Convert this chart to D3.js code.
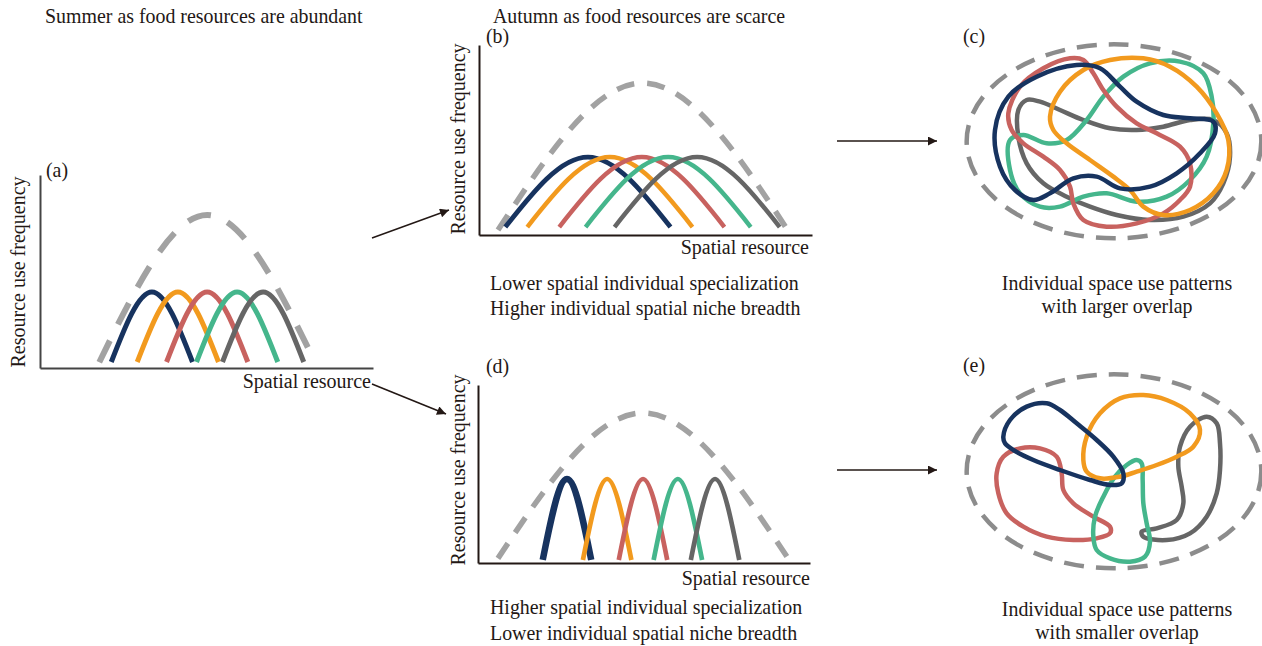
<!DOCTYPE html>
<meta charset="utf-8">
<script src="https://d3js.org/d3.v7.min.js"></script>
<style>
  body { margin: 0; background: #fff; }
  text { font-family: "Liberation Serif", "Times New Roman", serif; fill: #231815; }
</style>
<div id="my_div"></div>
<script>
// five individuals: blue, orange, red, green, grey
var individuals = ["ind1", "ind2", "ind3", "ind4", "ind5"];
var indColors = ["#17335f", "#f29a1e", "#c8625f", "#45b68c", "#666666"];

// individual niche curves, spatial resource axis 0-100, frequency axis 0-100
var summerCenters = [33.6, 41.4, 50.2, 59.2, 67.0];
var lowSpecCenters = [32.7, 39.3, 48.9, 56.8, 65.5];
var highSpecCenters = [26.8, 38.9, 49.7, 60.2, 71.4];
// per panel (a, b, d): half width, peak and base of the individual curves
var curveHalfWidth = [12.2, 24.8, 7.3];
var curvePeak = [39.4, 41.0, 47.2];
var curveBase = [3.1, 4.2, 1.7];
// population niche (dashed) per panel (a, b, d)
var popCenter = [50.2, 49.2, 49.7];
var popHalfWidth = [32.4, 43.5, 43.7];
var popPeak = [79.3, 80.0, 84.3];
var popBase = [3.0, 2.6, 2.6];

// space use outlines, map units (0-936 x 0-660)
var popRange = {cx: 492, cy: 334, rx: 442, ry: 291};
var largeBlue = [[135,300],[175,200],[260,140],[380,105],[450,115],[510,170],[560,215],[640,255],[720,265],[790,275],[795,310],[750,370],[680,430],[600,470],[510,475],[440,440],[370,445],[300,490],[250,510],[195,480],[150,410]];
var largeOrange = [[300,260],[330,185],[400,120],[480,90],[580,85],[660,110],[740,170],[800,250],[835,330],[830,420],[790,490],[720,540],[640,555],[580,530],[540,480],[490,440],[420,390],[350,340],[310,300]];
var largeRed = [[175,250],[210,170],[280,115],[360,85],[400,90],[430,130],[460,180],[500,230],[560,280],[620,310],[690,350],[720,400],[720,470],[690,510],[640,550],[560,580],[470,590],[400,570],[370,520],[360,470],[330,420],[280,380],[220,340],[185,300]];
var largeGreen = [[180,330],[220,315],[290,340],[350,330],[410,270],[460,200],[520,140],[600,100],[690,95],[760,130],[785,200],[790,280],[770,380],[720,450],[650,500],[560,515],[470,490],[400,500],[330,530],[270,530],[210,490],[180,420]];
var largeGrey = [[205,240],[230,210],[270,215],[330,240],[400,270],[480,295],[560,300],[640,290],[720,270],[790,270],[830,310],[840,380],[820,460],[780,520],[700,560],[600,570],[500,555],[420,530],[350,500],[280,460],[230,400],[205,320]];
var smallBlue = [[160,230],[180,180],[230,140],[290,130],[330,150],[380,190],[440,240],[490,290],[520,340],[515,370],[480,375],[420,360],[330,330],[250,300],[190,270],[165,250]];
var smallOrange = [[400,300],[410,230],[450,160],[510,115],[580,105],[650,120],[720,160],[750,210],[730,260],[680,290],[620,315],[560,335],[510,350],[450,355],[410,335]];
var smallRed = [[140,340],[160,290],[210,265],[270,265],[320,290],[335,340],[340,390],[370,430],[430,470],[480,500],[480,520],[440,535],[370,540],[290,530],[220,500],[170,460],[145,400]];
var smallGreen = [[430,530],[435,470],[460,410],[495,350],[530,315],[560,300],[575,310],[578,360],[580,430],[590,490],[600,545],[585,590],[540,605],[480,595],[440,570]];
var smallGrey = [[690,260],[720,200],[770,170],[800,190],[810,250],[810,330],[800,400],[770,470],[720,520],[650,540],[580,530],[575,515],[620,505],[680,480],[700,430],[695,380],[685,320]];

var svg = d3.select("#my_div").append("svg")
  .attr("width", 1262).attr("height", 646);

var defs = svg.append("defs");
defs.append("marker")
  .attr("id", "arrow").attr("viewBox", "0 0 10 10")
  .attr("refX", 10).attr("refY", 5)
  .attr("markerWidth", 11).attr("markerHeight", 9)
  .attr("markerUnits", "userSpaceOnUse").attr("orient", "auto")
  .append("path").attr("d", "M0,0 L10,5 L0,10 z").attr("fill", "#231815");

// niche panels
var panels = [
  {id: "a", xr: [40, 373], yr: [368, 175], centers: summerCenters, axisColor: "#444", w: 5, blueW: 5, dash: "24,18", dashW: 6},
  {id: "b", xr: [479, 812], yr: [235, 45], centers: lowSpecCenters, axisColor: "#231815", w: 4.5, blueW: 4.8, dash: "18,13", dashW: 5.5},
  {id: "d", xr: [478, 810], yr: [563, 385], centers: highSpecCenters, axisColor: "#231815", w: 4.7, blueW: 6.5, dash: "18,13", dashW: 5.5}
];

panels.forEach(function(p, k) {
  var x = d3.scaleLinear().domain([0, 100]).range(p.xr);
  var y = d3.scaleLinear().domain([0, 100]).range(p.yr);
  var g = svg.append("g");

  g.append("g").attr("transform", "translate(0," + p.yr[0] + ")")
    .call(d3.axisBottom(x).tickValues([]).tickSizeOuter(0))
    .select(".domain").attr("stroke", p.axisColor).attr("stroke-width", 2);
  g.append("g").attr("transform", "translate(" + p.xr[0] + ",0)")
    .call(d3.axisLeft(y).tickValues([]).tickSizeOuter(0))
    .select(".domain").attr("stroke", p.axisColor).attr("stroke-width", 2);

  var line = d3.line().x(function(d) { return x(d[0]); }).y(function(d) { return y(d[1]); })
    .curve(d3.curveNatural);

  // population niche
  g.append("path")
    .attr("d", line([[popCenter[k] - popHalfWidth[k], popBase[k]], [popCenter[k], popPeak[k]], [popCenter[k] + popHalfWidth[k], popBase[k]]]))
    .attr("fill", "none").attr("stroke", "#a2a2a2")
    .attr("stroke-width", p.dashW).attr("stroke-dasharray", p.dash);

  // individual niches
  g.selectAll(".ind").data(p.centers).enter().append("path")
    .attr("d", function(c) {
      return line([[c - curveHalfWidth[k], curveBase[k]], [c, curvePeak[k]], [c + curveHalfWidth[k], curveBase[k]]]);
    })
    .attr("fill", "none")
    .attr("stroke", function(c, i) { return indColors[i]; })
    .attr("stroke-width", function(c, i) { return i === 0 ? p.blueW : p.w; });
});

// space use panels
var mx = d3.scaleLinear().domain([0, 936]).range([950, 1262]);

function spacePanel(top, outlines) {
  var my = d3.scaleLinear().domain([0, 660]).range([top, top + 220]);
  var g = svg.append("g");
  g.append("ellipse")
    .attr("cx", mx(popRange.cx)).attr("cy", my(popRange.cy))
    .attr("rx", mx(popRange.cx + popRange.rx) - mx(popRange.cx))
    .attr("ry", my(popRange.cy + popRange.ry) - my(popRange.cy))
    .attr("fill", "none").attr("stroke", "#8c8c8c")
    .attr("stroke-width", 4.5).attr("stroke-dasharray", "20,12");
  var line = d3.line().x(function(d) { return mx(d[0]); }).y(function(d) { return my(d[1]); })
    .curve(d3.curveCatmullRomClosed.alpha(0.5));
  outlines.forEach(function(o) {
    g.append("path").attr("d", line(o.pts))
      .attr("fill", "none").attr("stroke", indColors[o.i]).attr("stroke-width", 4.5);
  });
}
spacePanel(30, [{pts: largeGrey, i: 4}, {pts: largeGreen, i: 3}, {pts: largeRed, i: 2}, {pts: largeOrange, i: 1}, {pts: largeBlue, i: 0}]);
spacePanel(360, [{pts: smallRed, i: 2}, {pts: smallGrey, i: 4}, {pts: smallGreen, i: 3}, {pts: smallOrange, i: 1}, {pts: smallBlue, i: 0}]);

// arrows
[[372, 238, 449, 210], [372, 384, 446, 414], [837, 141, 937, 141], [837, 470, 937, 470]].forEach(function(a) {
  svg.append("line").attr("x1", a[0]).attr("y1", a[1]).attr("x2", a[2]).attr("y2", a[3])
    .attr("stroke", "#231815").attr("stroke-width", 1.6).attr("marker-end", "url(#arrow)");
});

// texts
function txt(s, x, y, size, anchor) {
  return svg.append("text").attr("x", x).attr("y", y)
    .style("font-size", size + "px").attr("text-anchor", anchor || "start").text(s);
}
var fs = 19.9;
txt("Summer as food resources are abundant", 45, 23, fs);
txt("Autumn as food resources are scarce", 493, 23, fs);
txt("(a)", 46, 177, fs);
txt("(b)", 486, 43, fs);
txt("(c)", 963, 43, fs);
txt("(d)", 486, 373, fs);
txt("(e)", 963, 372, fs);

[[25, 272], [465, 139], [465, 470]].forEach(function(p) {
  svg.append("text").attr("transform", "translate(" + p[0] + "," + p[1] + ") rotate(-90)")
    .attr("text-anchor", "middle").style("font-size", "20px").text("Resource use frequency");
});
txt("Spatial resource", 371, 388, 20, "end");
txt("Spatial resource", 809, 254, 20, "end");
txt("Spatial resource", 810, 585, 20, "end");

txt("Lower spatial individual specialization", 490, 290, fs);
txt("Higher individual spatial niche breadth", 490, 315, fs);
txt("Higher spatial individual specialization", 490, 614, fs);
txt("Lower individual spatial niche breadth", 490, 640, fs);
txt("Individual space use patterns", 1117, 290, fs, "middle");
txt("with larger overlap", 1117, 313, fs, "middle");
txt("Individual space use patterns", 1117, 616, fs, "middle");
txt("with smaller overlap", 1117, 639, fs, "middle");
</script>
